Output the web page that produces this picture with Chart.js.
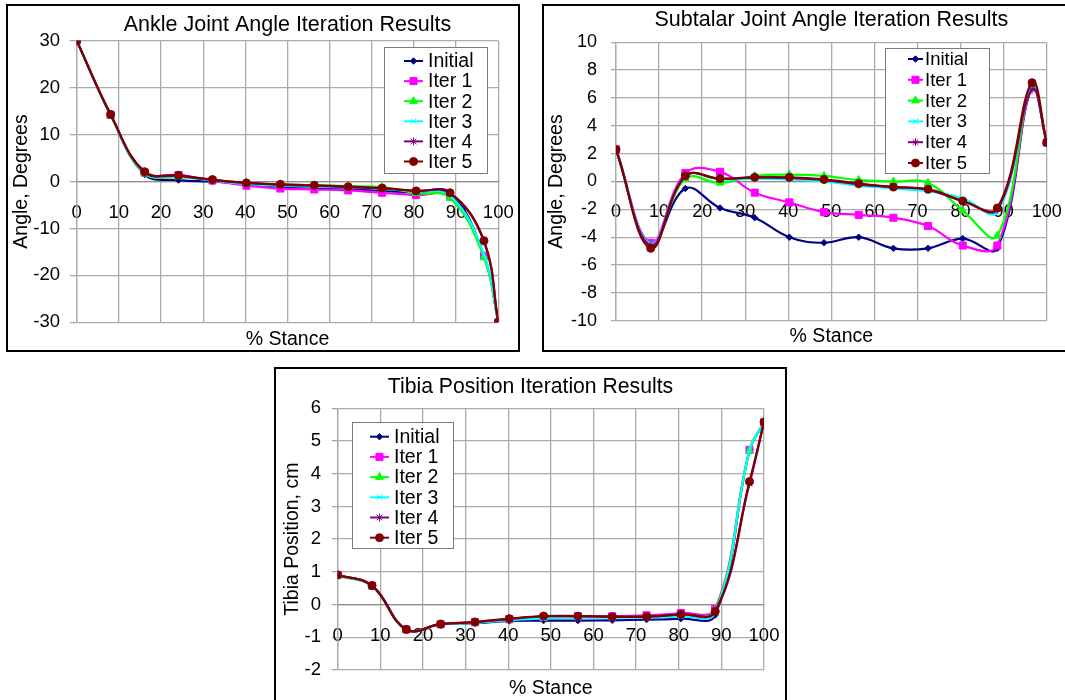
<!DOCTYPE html>
<html>
<head>
<meta charset="utf-8">
<script src="https://cdn.jsdelivr.net/npm/chart.js@4.4.1/dist/chart.umd.min.js"></script>
<style>
  html, body { margin: 0; padding: 0; background: #fff; }
  body { width: 1065px; height: 700px; overflow: hidden; position: relative; }
  .panel { position: absolute; border: 2px solid #000; background: #fff; }
  canvas { display: block; }
</style>
</head>
<body>
<div class="panel" style="left:6px; top:4px;"><canvas id="ankle" width="510" height="344"></canvas></div>
<div class="panel" style="left:542px; top:4px;"><canvas id="subtalar" width="525" height="344"></canvas></div>
<div class="panel" style="left:274px; top:367px;"><canvas id="tibia" width="509" height="335"></canvas></div>

<script>
// % of stance phase at which each sample was taken
const stancePct = [0, 8.05, 16.1, 24.15, 32.2, 40.25, 48.3, 56.35, 64.4, 72.45, 80.5, 88.55, 96.6, 100];

const seriesNames = ['Initial', 'Iter 1', 'Iter 2', 'Iter 3', 'Iter 4', 'Iter 5'];

// Ankle joint angle, degrees
const ankleInitial = [30, 14.2, 1.5, 0.3, 0.0, -0.6, -1.1, -1.3, -1.6, -2.0, -2.3, -2.4, -15.8, -30];
const ankleIter1   = [30, 14.2, 1.9, 1.4, 0.2, -0.9, -1.5, -1.7, -1.9, -2.4, -2.9, -3.2, -15.8, -30];
const ankleIter2   = [30, 14.1, 1.7, 1.0, 0.3, -0.3, -0.6, -0.8, -1.0, -1.2, -2.5, -3.5, -16.2, -30];
const ankleIter3   = [30, 14.1, 1.8, 1.1, 0.2, -0.5, -0.9, -1.1, -1.3, -1.6, -2.1, -3.0, -15.5, -30];
const ankleIter4   = [30, 14.2, 2.0, 1.2, 0.3, -0.3, -0.7, -0.9, -1.2, -1.5, -2.0, -2.5, -12.8, -30];
const ankleIter5   = [30, 14.3, 2.1, 1.3, 0.4, -0.3, -0.6, -0.8, -1.1, -1.4, -2.0, -2.4, -12.6, -30];

// Subtalar joint angle, degrees
const subtalarInitial = [2.3, -4.5, -0.5, -1.9, -2.6, -4.0, -4.4, -4.0, -4.8, -4.8, -4.1, -4.8, 6.8, 2.8];
const subtalarIter1   = [2.3, -4.4, 0.6, 0.7, -0.8, -1.5, -2.2, -2.4, -2.6, -3.2, -4.6, -4.6, 6.8, 2.8];
const subtalarIter2   = [2.3, -4.6, 0.2, -0.1, 0.4, 0.5, 0.4, 0.1, 0.0, -0.1, -2.1, -3.9, 6.9, 2.8];
const subtalarIter3   = [2.3, -4.5, 0.4, 0.15, 0.2, 0.15, 0.0, -0.3, -0.5, -0.7, -1.2, -2.2, 6.8, 2.8];
const subtalarIter4   = [2.3, -4.6, 0.4, 0.2, 0.3, 0.25, 0.1, -0.2, -0.4, -0.6, -1.4, -2.0, 6.6, 2.8];
const subtalarIter5   = [2.3, -4.8, 0.4, 0.2, 0.3, 0.3, 0.15, -0.15, -0.4, -0.55, -1.4, -1.9, 7.1, 2.8];

// Tibia position, cm
const tibiaInitial = [0.9, 0.57, -0.77, -0.6, -0.57, -0.5, -0.49, -0.49, -0.48, -0.46, -0.43, -0.32, 4.7, 5.57];
const tibiaIter1   = [0.9, 0.58, -0.76, -0.6, -0.54, -0.45, -0.38, -0.36, -0.36, -0.33, -0.26, -0.13, 4.73, 5.57];
const tibiaIter2   = [0.88, 0.56, -0.76, -0.6, -0.55, -0.46, -0.4, -0.38, -0.38, -0.37, -0.32, -0.18, 4.7, 5.57];
const tibiaIter3   = [0.9, 0.58, -0.76, -0.6, -0.56, -0.48, -0.42, -0.4, -0.4, -0.4, -0.36, -0.25, 4.72, 5.57];
const tibiaIter4   = [0.9, 0.58, -0.76, -0.6, -0.54, -0.44, -0.36, -0.36, -0.37, -0.37, -0.3, -0.22, 3.7, 5.57];
const tibiaIter5   = [0.91, 0.58, -0.76, -0.6, -0.53, -0.43, -0.35, -0.35, -0.37, -0.37, -0.3, -0.21, 3.76, 5.58];

// Axis ranges and tick spacing
const xRange = [0, 100, 10];
const ankleRange = [-30, 30, 10];
const subtalarRange = [-10, 10, 2];
const tibiaRange = [-2, 6, 1];

// Per-series look: colour, marker shape, marker radius
const seriesStyle = [
  { color: '#000080', point: 'rectRot',  r: 3.2 },
  { color: '#FF00FF', point: 'rect',     r: 5 },
  { color: '#00FF00', point: 'triangle', r: 4.5 },
  { color: '#00FFFF', point: 'crossRot', r: 4 },
  { color: '#800080', point: 'star',     r: 4 },
  { color: '#800000', point: 'circle',   r: 4 }
];

Chart.defaults.font.family = "'Liberation Sans', Arial, sans-serif";
Chart.defaults.color = '#000';

const GRID = '#ababab';
const ZERO = '#8f8f8f';

// Boxed legend drawn inside the plot area
const boxLegend = {
  id: 'boxLegend',
  afterDraw(chart, args, o) {
    const ctx = chart.ctx;
    ctx.save();
    ctx.fillStyle = '#fff';
    ctx.fillRect(o.x, o.y, o.w, o.h);
    ctx.strokeStyle = '#7a7a7a';
    ctx.lineWidth = 1;
    ctx.strokeRect(o.x + 0.5, o.y + 0.5, o.w, o.h);
    ctx.font = o.fontSize + "px 'Liberation Sans', Arial, sans-serif";
    ctx.textBaseline = 'middle';
    ctx.textAlign = 'left';
    chart.data.datasets.forEach((ds, i) => {
      const y = o.rowY + i * o.rowDy;
      ctx.strokeStyle = ds.borderColor;
      ctx.lineWidth = 2;
      ctx.beginPath();
      ctx.moveTo(o.lineX0, y);
      ctx.lineTo(o.lineX1, y);
      ctx.stroke();
      ctx.fillStyle = ds.pointBackgroundColor;
      ctx.strokeStyle = ds.pointBorderColor;
      ctx.lineWidth = 1;
      Chart.helpers.drawPoint(ctx, { pointStyle: ds.pointStyle, radius: ds.pointRadius, rotation: 0, borderWidth: 1 },
        (o.lineX0 + o.lineX1) / 2, y);
      ctx.fillStyle = '#000';
      ctx.fillText(ds.label, o.textX, y + 1);
    });
    ctx.restore();
  }
};

function makeDatasets(seriesList) {
  return seriesList.map((values, i) => ({
    label: seriesNames[i],
    data: stancePct.map((x, k) => ({ x: x, y: values[k] })),
    borderColor: seriesStyle[i].color,
    backgroundColor: seriesStyle[i].color,
    pointBackgroundColor: seriesStyle[i].color,
    pointBorderColor: seriesStyle[i].color,
    pointStyle: seriesStyle[i].point,
    pointRadius: seriesStyle[i].r,
    pointBorderWidth: 1,
    borderWidth: 2.2,
    tension: 0.4,
    fill: false,
    order: seriesList.length - i,
    xAxisID: 'x',
    yAxisID: 'y'
  }));
}

function makeChart(id, cfg) {
  const tickFont = { size: cfg.tickSize };
  new Chart(document.getElementById(id), {
    type: 'line',
    data: { datasets: makeDatasets(cfg.series) },
    options: {
      responsive: false,
      animation: false,
      devicePixelRatio: 1,
      layout: { padding: 0 },
      plugins: {
        legend: { display: false },
        tooltip: { enabled: false },
        title: {
          display: true,
          text: cfg.title,
          color: '#000',
          fullSize: cfg.titleFull,
          font: { size: cfg.titleSize, weight: 'normal', lineHeight: 1 },
          padding: { top: cfg.titleTop, bottom: cfg.titleBottom }
        },
        boxLegend: cfg.legend
      },
      scales: {
        x: {
          type: 'linear',
          min: xRange[0], max: xRange[1],
          position: { y: 0 },
          // labels sit a fixed gap below the zero line (invisible tick marks give the gap)
          ticks: { stepSize: xRange[2], padding: 0, font: tickFont, color: '#000', autoSkip: false, maxRotation: 0 },
          grid: { color: GRID, lineWidth: 1.3, drawTicks: true, tickLength: 20, tickColor: 'rgba(0,0,0,0)' },
          border: { color: ZERO, width: 1.3 }
        },
        xt: {
          type: 'linear',
          min: xRange[0], max: xRange[1],
          position: 'bottom',
          ticks: { display: false },
          grid: { display: false, drawTicks: false },
          border: { display: false },
          title: {
            display: true, text: '% Stance', color: '#000',
            font: { size: 19.5, lineHeight: 1 },
            padding: { top: 0, bottom: cfg.xTitleBottom }
          },
          afterFit(s) { s.height = cfg.xAxisH; }
        },
        y: {
          type: 'linear',
          min: cfg.yRange[0], max: cfg.yRange[1],
          ticks: { stepSize: cfg.yRange[2], padding: cfg.yPad, font: tickFont, color: '#000' },
          grid: { color: GRID, lineWidth: 1.3, tickLength: cfg.yTick },
          border: { color: GRID, width: 1.3 },
          title: {
            display: true, text: cfg.yTitle, color: '#000',
            font: { size: 19.5, lineHeight: 1 },
            padding: { top: cfg.yTitleTop, bottom: 0 }
          },
          afterFit(s) { s.width = cfg.yAxisW; }
        },
        // empty right-hand margin strip beside the plot
        yMargin: {
          type: 'linear',
          position: 'right',
          min: 0, max: 1,
          ticks: { display: false },
          grid: { display: false, drawTicks: false },
          border: { display: false },
          afterFit(s) { s.width = cfg.padRight; }
        }
      }
    },
    plugins: [boxLegend]
  });
}

makeChart('ankle', {
  title: 'Ankle Joint Angle Iteration Results',
  titleSize: 21.5,
  yTitle: 'Angle, Degrees',
  series: [ankleInitial, ankleIter1, ankleIter2, ankleIter3, ankleIter4, ankleIter5],
  yRange: ankleRange,
  tickSize: 18.5,
  padRight: 19.7, titleFull: false, titleTop: 8.4, titleBottom: 4.8,
  xAxisH: 27.7, xTitleBottom: 1,
  yAxisW: 68.7, yTick: 7, yPad: 9.7, yTitleTop: 3.5,
  legend: { x: 376, y: 41, w: 103, h: 126, rowY: 55, rowDy: 20.1, lineX0: 396, lineX1: 415, textX: 420, fontSize: 19.5 }
});

makeChart('subtalar', {
  title: 'Subtalar Joint Angle Iteration Results',
  titleSize: 21.5,
  yTitle: 'Angle, Degrees',
  series: [subtalarInitial, subtalarIter1, subtalarIter2, subtalarIter3, subtalarIter4, subtalarIter5],
  yRange: subtalarRange,
  tickSize: 18,
  padRight: 22.3, titleFull: false, titleTop: 3.4, titleBottom: 11.4,
  xAxisH: 29.3, xTitleBottom: 3.5,
  yAxisW: 72, yTick: 5, yPad: 14, yTitleTop: 2.5,
  legend: { x: 341, y: 42, w: 104, h: 125, rowY: 53, rowDy: 20.8, lineX0: 364, lineX1: 379, textX: 381, fontSize: 18.5 }
});

makeChart('tibia', {
  title: 'Tibia Position Iteration Results',
  titleSize: 21.2,
  yTitle: 'Tibia Position, cm',
  series: [tibiaInitial, tibiaIter1, tibiaIter2, tibiaIter3, tibiaIter4, tibiaIter5],
  yRange: tibiaRange,
  tickSize: 18.5,
  padRight: 21, titleFull: true, titleTop: 7.1, titleBottom: 11,
  xAxisH: 34, xTitleBottom: 6,
  yAxisW: 61.7, yTick: 6, yPad: 10.7, yTitleTop: 7,
  legend: { x: 76, y: 53, w: 101, h: 126, rowY: 67.7, rowDy: 20.2, lineX0: 94, lineX1: 113, textX: 118, fontSize: 19.5 }
});
</script>
</body>
</html>
